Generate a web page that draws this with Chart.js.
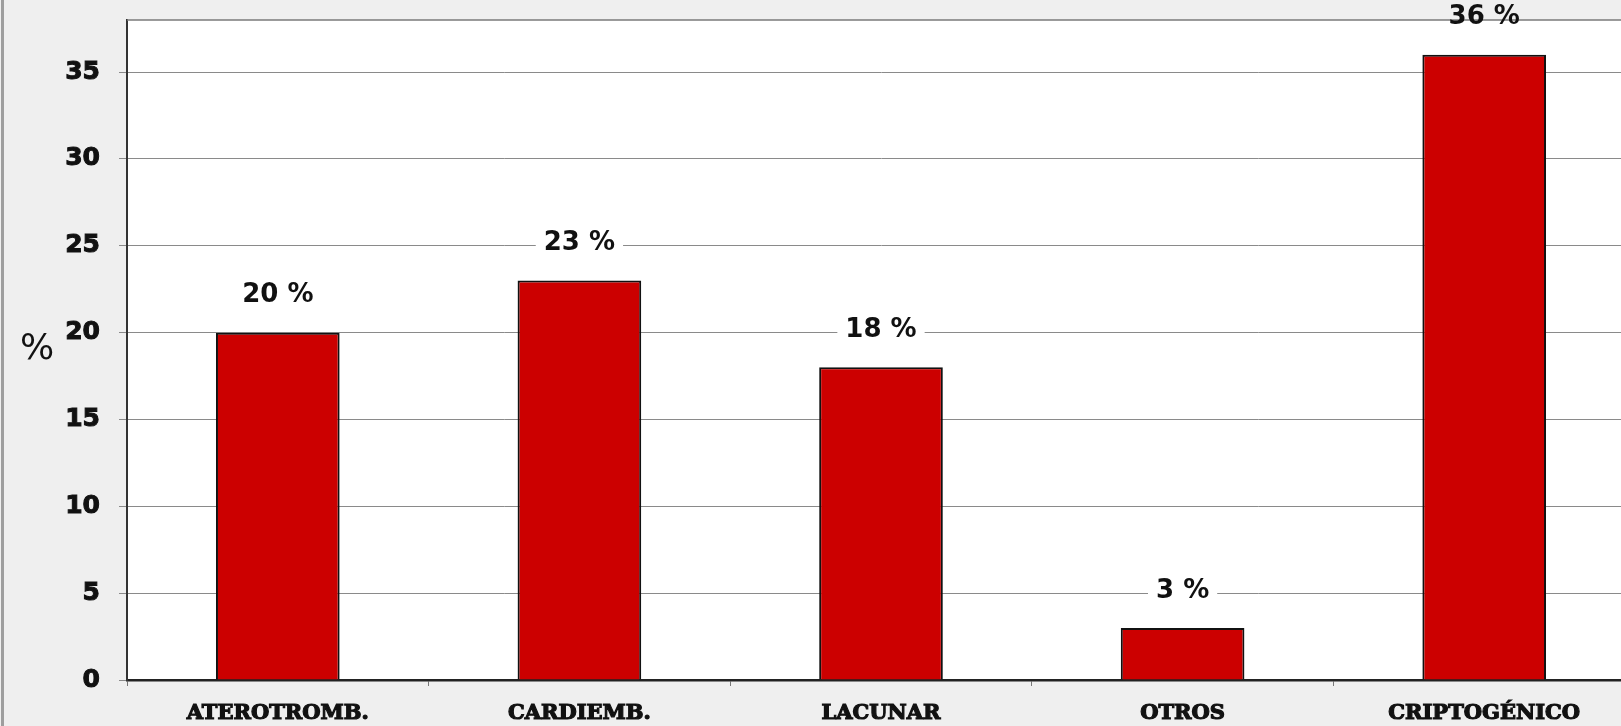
<!DOCTYPE html>
<html>
<head>
<meta charset="utf-8">
<script src="https://cdn.jsdelivr.net/npm/chart.js@4"></script>
<style>
  html, body { margin: 0; padding: 0; background: #efefef; overflow: hidden; }
  #wrap { position: absolute; left: 1px; top: 0; width: 1640px; height: 726px; border-left: 3px solid #9e9e9e; }
</style>
</head>
<body>
<div id="wrap"><canvas id="subtypes" width="1640" height="726"></canvas></div>
<script>
// Stroke subtypes, share of patients (%)
const categories = ['ATEROTROMB.', 'CARDIEMB.', 'LACUNAR', 'OTROS', 'CRIPTOGÉNICO'];
const percentages = [20, 23, 18, 3, 36];
const yTicks = [0, 5, 10, 15, 20, 25, 30, 35];
const yMax = 38;

// white plot area with a thin border on top
const plotArea = {
  id: 'plotArea',
  beforeDraw(chart) {
    const { ctx, chartArea: a } = chart;
    ctx.save();
    ctx.fillStyle = '#ffffff';
    ctx.fillRect(a.left, a.top, a.right - a.left, a.bottom - a.top);
    ctx.restore();
  },
  afterDraw(chart) {
    const { ctx, chartArea: a } = chart;
    ctx.save();
    ctx.strokeStyle = '#7a7a7a';
    ctx.lineWidth = 1.5;
    ctx.beginPath();
    ctx.moveTo(a.left, a.top);
    ctx.lineTo(a.right, a.top);
    ctx.stroke();
    ctx.restore();
  }
};

// "NN %" above every bar, on a white patch over the grid
const valueLabels = {
  id: 'valueLabels',
  afterDraw(chart) {
    const { ctx, chartArea: a } = chart;
    const meta = chart.getDatasetMeta(0);
    ctx.save();
    ctx.font = 'bold 26px "DejaVu Sans"';
    ctx.textAlign = 'center';
    ctx.textBaseline = 'middle';
    meta.data.forEach((bar, i) => {
      const text = percentages[i] + ' %';
      const w = ctx.measureText(text).width;
      const y = bar.y - 37;
      // patch only inside the plot, so the grey margin stays grey
      const top = Math.max(y - 15, a.top + 1);
      ctx.fillStyle = '#ffffff';
      ctx.fillRect(bar.x - w / 2 - 8, top, w + 16, y + 15 - top);
      ctx.fillStyle = '#111111';
      ctx.fillText(text, bar.x, y);
    });
    ctx.restore();
  }
};

// horizontal "%" axis title
const yTitle = {
  id: 'yTitle',
  afterDraw(chart) {
    const { ctx, chartArea: a } = chart;
    ctx.save();
    ctx.font = '36px "DejaVu Sans"';
    ctx.fillStyle = '#111111';
    ctx.textAlign = 'center';
    ctx.textBaseline = 'middle';
    ctx.fillText('%', 33, (a.top + a.bottom) / 2);
    ctx.restore();
  }
};

const ctx = document.getElementById('subtypes').getContext('2d');
const chart = new Chart(ctx, {
  type: 'bar',
  data: {
    labels: categories,
    datasets: [{
      data: percentages,
      backgroundColor: '#cc0000',
      borderColor: '#111111',
      borderWidth: 2,
      barPercentage: 0.41,
      categoryPercentage: 1
    }]
  },
  options: {
    responsive: false,
    animation: false,
    layout: { padding: { top: 20, right: 9, left: 0, bottom: 0 } },
    plugins: {
      legend: { display: false },
      tooltip: { enabled: false }
    },
    scales: {
      x: {
        grid: { display: true, drawOnChartArea: false, tickLength: 6, color: '#777777', offset: true },
        border: { color: '#222222', width: 2.5 },
        ticks: {
          color: '#111111',
          textStrokeColor: '#111111',
          textStrokeWidth: 1.2,
          padding: 15,
          maxRotation: 0,
          font: { family: '"DejaVu Serif"', weight: 'bold', size: 21 }
        },
        afterFit(scale) {
          scale.height = 46;
          scale.paddingLeft = 0;
          scale.paddingRight = 0;
        }
      },
      y: {
        min: 0,
        max: yMax,
        afterBuildTicks(scale) { scale.ticks = yTicks.map(v => ({ value: v })); },
        grid: { color: '#8a8a8a', lineWidth: 1, tickLength: 8 },
        border: { color: '#333333', width: 2 },
        ticks: {
          color: '#111111',
          textStrokeColor: '#111111',
          textStrokeWidth: 1,
          padding: 19,
          font: { family: '"DejaVu Sans"', weight: 'bold', size: 25 }
        },
        afterFit(scale) {
          scale.width = 123;
          scale.paddingTop = 0;
          scale.paddingBottom = 0;
        }
      }
    }
  },
  plugins: [plotArea, valueLabels, yTitle]
});
</script>
</body>
</html>
